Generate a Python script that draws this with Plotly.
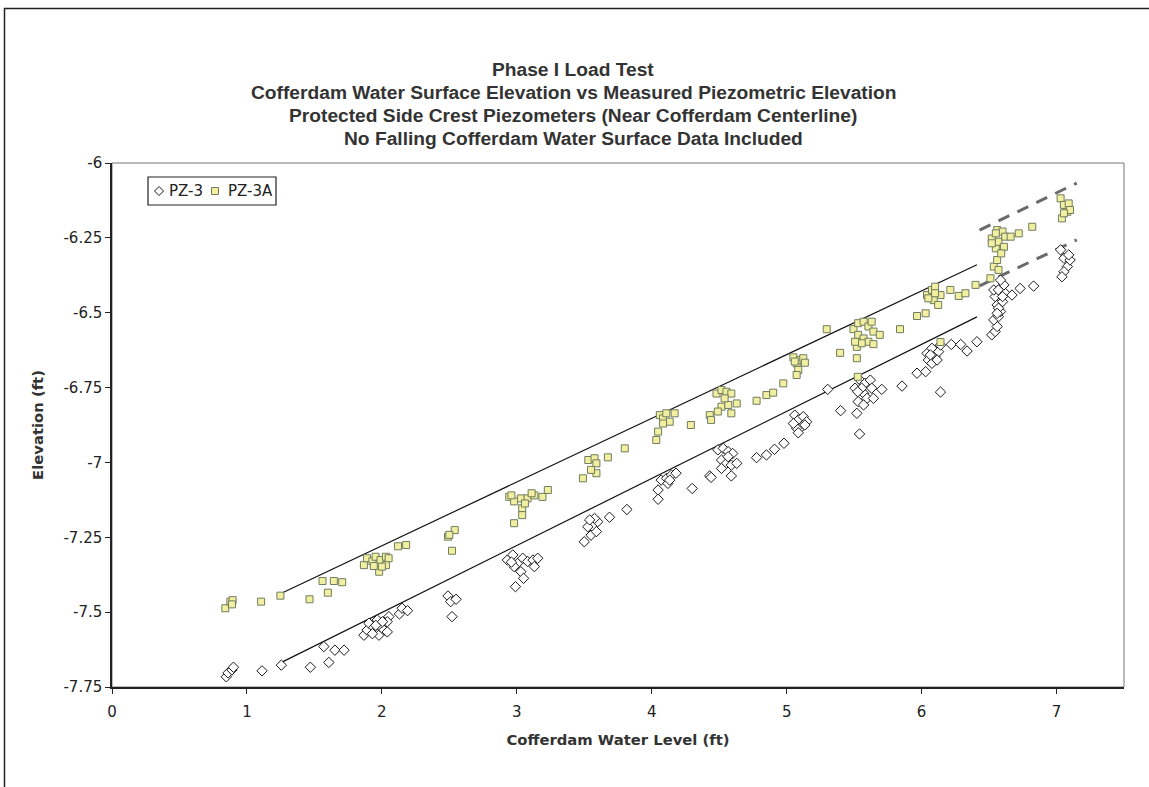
import plotly.graph_objects as go

# ---------------- data ----------------
pz3a_x = [0.84, 0.877, 0.894, 0.889, 1.105, 1.248, 1.464, 1.56, 1.60, 1.644, 1.706,
          1.867, 1.89, 1.93, 1.954, 1.98, 1.99, 2.03, 2.03, 1.94, 2.0, 2.05,
          2.12, 2.18,
          2.49, 2.54, 2.50, 2.52,
          2.944, 2.98, 3.03, 3.08, 3.13, 3.19, 3.23, 3.04, 3.04, 2.98, 2.96, 3.11, 3.06,
          3.49, 3.53, 3.576, 3.59, 3.59, 3.55, 3.675,
          3.80,
          4.034, 4.047, 4.06, 4.084, 4.108, 4.133, 4.17, 4.084,
          4.29, 4.43, 4.44,
          4.48, 4.517, 4.554, 4.59, 4.517, 4.567, 4.63, 4.49, 4.59, 4.54,
          4.777, 4.85, 4.90, 4.975,
          5.05, 5.074, 5.10, 5.123, 5.135, 5.086, 5.074, 5.06,
          5.297, 5.396, 5.52,
          5.495, 5.53, 5.57, 5.606, 5.63, 5.643, 5.53, 5.57, 5.606, 5.643, 5.52, 5.556, 5.69, 5.507,
          5.527, 5.84, 5.966, 6.03,
          6.04, 6.077, 6.10, 6.14, 6.09, 6.123, 6.05, 6.10, 6.14,
          6.213, 6.275, 6.325, 6.40,
          6.51, 6.535, 6.56, 6.55, 6.57, 6.52, 6.56, 6.60, 6.62, 6.55, 6.61, 6.59, 6.66, 6.72, 6.82, 6.52, 6.57,
          7.03, 7.055, 7.08, 7.09, 7.10, 7.04, 7.055]
pz3a_y = [-7.487, -7.465, -7.46, -7.474, -7.465, -7.445, -7.457, -7.396, -7.435, -7.396, -7.40,
          -7.343, -7.32, -7.33, -7.315, -7.365, -7.326, -7.315, -7.343, -7.346, -7.348, -7.32,
          -7.28, -7.276,
          -7.248, -7.226, -7.242, -7.295,
          -7.115, -7.13, -7.12, -7.12, -7.11, -7.115, -7.092, -7.153, -7.176, -7.203, -7.11, -7.103, -7.137,
          -7.053, -6.992, -6.986, -7.003, -7.036, -7.025, -6.983,
          -6.953,
          -6.925, -6.897, -6.842, -6.853, -6.836, -6.864, -6.836, -6.87,
          -6.875, -6.842, -6.858,
          -6.77, -6.758, -6.764, -6.77, -6.814, -6.808, -6.803, -6.83, -6.836, -6.786,
          -6.794, -6.775, -6.767, -6.736,
          -6.649, -6.669, -6.658, -6.652, -6.667, -6.691, -6.708, -6.663,
          -6.555, -6.634, -6.652,
          -6.555, -6.535, -6.53, -6.546, -6.53, -6.563, -6.574, -6.586, -6.597, -6.605, -6.614, -6.602, -6.574, -6.597,
          -6.714, -6.555, -6.511, -6.502,
          -6.441, -6.424, -6.413, -6.441, -6.458, -6.474, -6.452, -6.435, -6.598,
          -6.424, -6.444, -6.435, -6.407,
          -6.385, -6.346, -6.324, -6.285, -6.263, -6.252, -6.224, -6.229, -6.246, -6.235, -6.28, -6.302, -6.246, -6.235, -6.213, -6.268, -6.357,
          -6.118, -6.14, -6.163, -6.135, -6.157, -6.185, -6.168]

pz3_x = [0.847, 0.86, 0.889, 0.90, 1.112, 1.255, 1.47, 1.57, 1.607, 1.652, 1.72,
         1.867, 1.89, 1.904, 1.94, 1.966, 1.978, 1.99, 2.015, 2.04, 2.052, 2.04, 1.93, 1.955, 2.005,
         2.13, 2.15, 2.19,
         2.49, 2.51, 2.55, 2.52,
         2.93, 2.97, 3.006, 3.044, 3.08, 3.12, 3.155, 2.98, 3.03, 3.05, 2.99, 2.96, 3.13,
         3.50, 3.55, 3.59, 3.526, 3.60, 3.576, 3.54,
         3.687, 3.816,
         4.047, 4.047, 4.07, 4.11, 4.12, 4.146, 4.18, 4.133,
         4.30, 4.43, 4.44,
         4.49, 4.53, 4.566, 4.60, 4.517, 4.554, 4.59, 4.63, 4.517, 4.59, 4.566,
         4.777, 4.85, 4.91, 4.98,
         5.06, 5.086, 5.123, 5.148, 5.11, 5.074, 5.086, 5.05, 5.135,
         5.304, 5.40, 5.54,
         5.507, 5.544, 5.58, 5.62, 5.63, 5.57, 5.595, 5.643, 5.53, 5.57, 5.52, 5.556, 5.705, 5.527,
         5.855, 5.966, 6.03,
         6.04, 6.077, 6.10, 6.126, 6.14, 6.05, 6.077, 6.115, 6.065,
         6.14, 6.22, 6.29, 6.337, 6.41,
         6.52, 6.545, 6.56, 6.535, 6.57, 6.585, 6.56, 6.60, 6.545, 6.535, 6.57, 6.62, 6.61, 6.585, 6.67, 6.73, 6.83, 6.57, 6.56, 6.60,
         7.03, 7.055, 7.08, 7.10, 7.055, 7.04, 7.09]
pz3_y = [-7.716, -7.703, -7.693, -7.684, -7.696, -7.677, -7.684, -7.615, -7.668, -7.627, -7.627,
         -7.577, -7.56, -7.537, -7.551, -7.526, -7.577, -7.549, -7.56, -7.566, -7.515, -7.532, -7.572, -7.544, -7.532,
         -7.506, -7.487, -7.495,
         -7.446, -7.465, -7.457, -7.515,
         -7.326, -7.309, -7.337, -7.32, -7.331, -7.326, -7.32, -7.348, -7.365, -7.387, -7.415, -7.333, -7.348,
         -7.265, -7.243, -7.231, -7.215, -7.198, -7.187, -7.192,
         -7.183, -7.157,
         -7.092, -7.123, -7.059, -7.053, -7.07, -7.042, -7.036, -7.059,
         -7.087, -7.045, -7.05,
         -6.958, -6.953, -6.964, -6.97, -6.992, -7.003, -7.009, -7.003, -7.02, -7.045, -6.981,
         -6.984, -6.975, -6.956, -6.936,
         -6.842, -6.858, -6.847, -6.864, -6.881, -6.886, -6.901, -6.87, -6.875,
         -6.756, -6.827, -6.905,
         -6.752, -6.725, -6.736, -6.725, -6.752, -6.769, -6.786, -6.786, -6.797, -6.808, -6.836, -6.752, -6.756, -6.764,
         -6.745, -6.702, -6.697,
         -6.636, -6.619, -6.647, -6.63, -6.608, -6.658, -6.669, -6.658, -6.641,
         -6.765, -6.606, -6.606, -6.628, -6.597,
         -6.574, -6.563, -6.546, -6.524, -6.513, -6.496, -6.474, -6.463, -6.446, -6.424, -6.424, -6.435, -6.407, -6.391, -6.441, -6.419, -6.411, -6.485, -6.502, -6.446,
         -6.29, -6.318, -6.346, -6.324, -6.363, -6.38, -6.307]

# trend lines (solid) and extrapolated (dashed) lines
trend_upper_x = [1.24, 6.41]
trend_upper_y = [-7.44, -6.34]
trend_lower_x = [1.26, 6.41]
trend_lower_y = [-7.667, -6.514]
dash_upper_x = [6.43, 7.15]
dash_upper_y = [-6.224, -6.067]
dash_lower_x = [6.43, 7.15]
dash_lower_y = [-6.41, -6.257]

x_ticks = [0, 1, 2, 3, 4, 5, 6, 7]
y_ticks = [-6, -6.25, -6.5, -6.75, -7, -7.25, -7.5, -7.75]
y_tick_text = ["-6", "-6.25", "-6.5", "-6.75", "-7", "-7.25", "-7.5", "-7.75"]

series_names = ["PZ-3", "PZ-3A"]
title_lines = ["Phase I Load Test",
               "Cofferdam Water Surface Elevation vs Measured Piezometric Elevation",
               "Protected Side Crest Piezometers (Near Cofferdam Centerline)",
               "No Falling Cofferdam Water Surface Data Included"]
x_title = "Cofferdam Water Level (ft)"
y_title = "Elevation (ft)"

# ---------------- figure ----------------
FONT = "DejaVu Sans, Verdana, sans-serif"
TITLE_FONT = "Liberation Sans, Arial, sans-serif"
SQ_FILL, SQ_LINE = "#f2efa0", "#6f7d5e"
fig = go.Figure()

for tx, ty in [(trend_upper_x, trend_upper_y), (trend_lower_x, trend_lower_y)]:
    fig.add_trace(go.Scatter(x=tx, y=ty, mode="lines", showlegend=False,
                             line=dict(color="#111111", width=1.2), hoverinfo="skip"))
for tx, ty in [(dash_upper_x, dash_upper_y), (dash_lower_x, dash_lower_y)]:
    fig.add_trace(go.Scatter(x=tx, y=ty, mode="lines", showlegend=False,
                             line=dict(color="#6a6a6a", width=3, dash="12px,9px"), hoverinfo="skip"))

fig.add_trace(go.Scatter(x=pz3_x, y=pz3_y, mode="markers", name=series_names[0], showlegend=False,
                         marker=dict(symbol="diamond", size=8, color="white",
                                     line=dict(color="#1a1a1a", width=1))))
fig.add_trace(go.Scatter(x=pz3a_x, y=pz3a_y, mode="markers", name=series_names[1], showlegend=False,
                         marker=dict(symbol="square", size=7, color=SQ_FILL,
                                     line=dict(color=SQ_LINE, width=1))))

W, H = 1149, 787
L, R, T, B = 112, 25, 163, 100
pw, ph = W - L - R, H - T - B

def px_x(p):
    return (p - L) / pw

def px_y(p):
    return (H - B - p) / ph

annotations = []
for i, line in enumerate(title_lines):
    annotations.append(dict(text="<b>" + line + "</b>", xref="paper", yref="paper",
                            x=px_x(573), y=px_y(69 + i * 23), xanchor="center", yanchor="middle",
                            showarrow=False, font=dict(family=TITLE_FONT, size=19.2, color="#333333")))

# legend (drawn manually to match the compact Excel legend)
LEG_FONT = dict(family=FONT, size=15, color="#222222")
annotations.append(dict(text=series_names[0], xref="paper", yref="paper", x=px_x(167), y=px_y(191),
                        xanchor="left", yanchor="middle", showarrow=False, font=LEG_FONT))
annotations.append(dict(text=series_names[1], xref="paper", yref="paper", x=px_x(226), y=px_y(191),
                        xanchor="left", yanchor="middle", showarrow=False, font=LEG_FONT))

dcx, dcy, dr = 159, 191, 4.5
diamond_path = "M {},{} L {},{} L {},{} L {},{} Z".format(
    px_x(dcx), px_y(dcy - dr), px_x(dcx + dr), px_y(dcy),
    px_x(dcx), px_y(dcy + dr), px_x(dcx - dr), px_y(dcy))

shapes = [
    # chart-area border
    dict(type="rect", xref="paper", yref="paper", x0=px_x(4.5), x1=px_x(1175),
         y0=px_y(810), y1=px_y(8.5), line=dict(color="#222222", width=1.5), layer="below"),
    # plot-area border
    dict(type="rect", xref="paper", yref="paper", x0=0, x1=1, y0=0, y1=1,
         line=dict(color="#777777", width=1), layer="below"),
    # legend box
    dict(type="rect", xref="paper", yref="paper", x0=px_x(148), x1=px_x(276),
         y0=px_y(205), y1=px_y(177), line=dict(color="#222222", width=1.2), fillcolor="white"),
    dict(type="path", xref="paper", yref="paper", path=diamond_path,
         line=dict(color="#1a1a1a", width=1), fillcolor="white"),
    dict(type="rect", xref="paper", yref="paper", x0=px_x(211.5), x1=px_x(218.5),
         y0=px_y(194.5), y1=px_y(187.5), line=dict(color=SQ_LINE, width=1), fillcolor=SQ_FILL),
]

fig.update_layout(
    width=W, height=H,
    margin=dict(l=L, r=R, t=T, b=B),
    paper_bgcolor="white", plot_bgcolor="white",
    font=dict(family=FONT, size=15, color="#222222"),
    showlegend=False,
    annotations=annotations,
    shapes=shapes,
    xaxis=dict(range=[0, 7.5], tickvals=x_ticks, ticks="outside", ticklen=5, tickcolor="#222",
               showline=True, linecolor="#222222", linewidth=1.5, showgrid=False, zeroline=False,
               ticklabelstandoff=5,
               title=dict(text="<b>" + x_title + "</b>", font=dict(family=FONT, size=14.8, color="#333"),
                          standoff=15),
               tickfont=dict(family=FONT, size=15, color="#222")),
    yaxis=dict(range=[-7.75, -6], tickvals=y_ticks, ticktext=y_tick_text, ticks="outside", ticklen=5,
               tickcolor="#222", showline=True, linecolor="#222222", linewidth=1.5, showgrid=False,
               zeroline=False,
               title=dict(text="<b>" + y_title + "</b>", font=dict(family=FONT, size=14.8, color="#333"),
                          standoff=16),
               tickfont=dict(family=FONT, size=15, color="#222")),
)

fig.write_html("out.html", config={"displayModeBar": False},
               post_script="document.body.style.margin='0px';")
